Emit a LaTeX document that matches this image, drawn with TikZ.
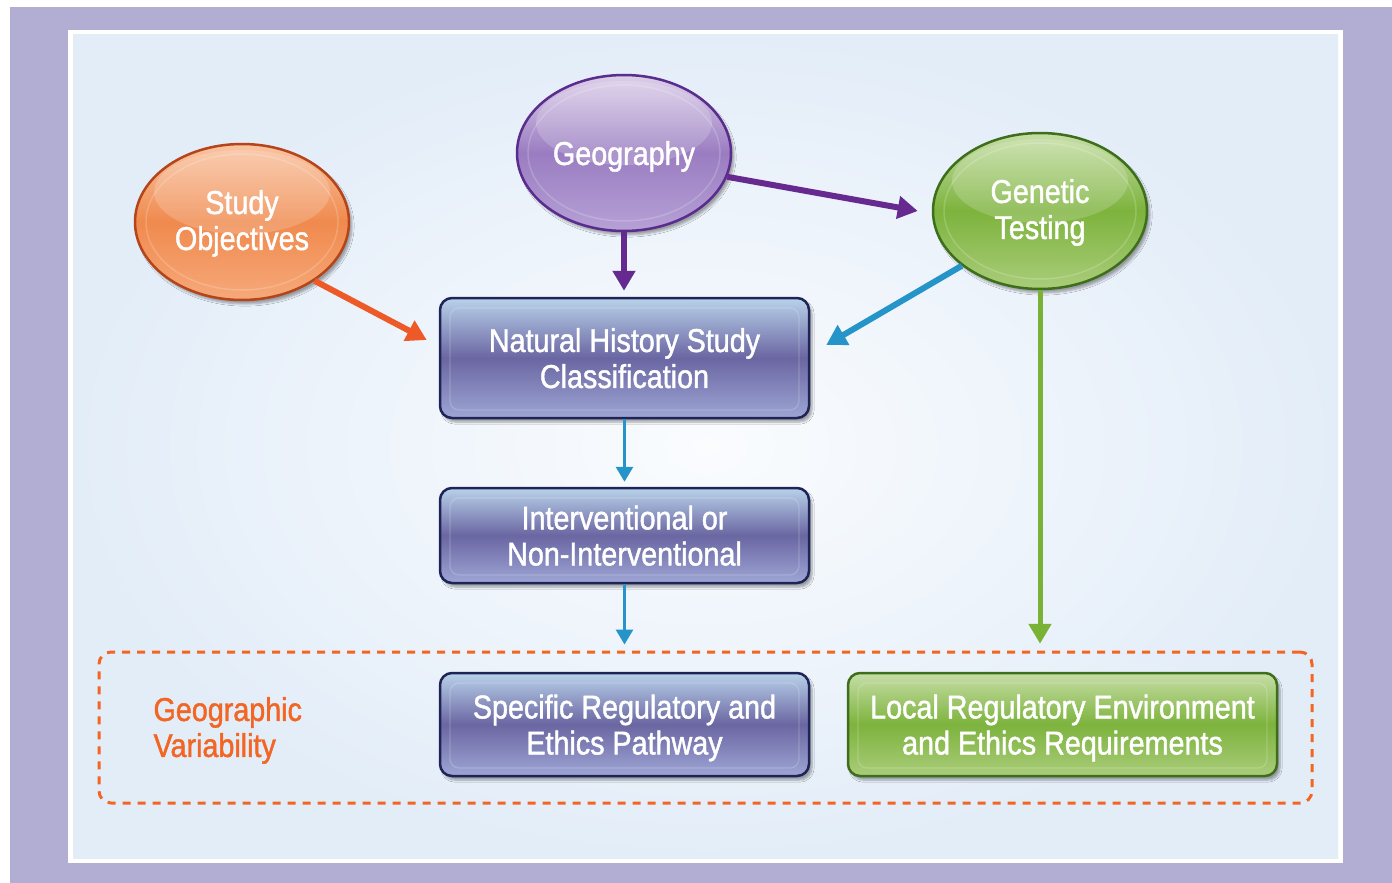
\documentclass[tikz,border=0pt]{standalone}
\usepackage{fontspec}
\setmainfont[FakeStretch=0.87,FakeBold=1.3]{Liberation Sans}
\usetikzlibrary{arrows.meta,shapes.geometric,calc,shadows.blur}
\definecolor{framepurple}{HTML}{B2AED3}
\definecolor{panelout}{HTML}{E3EDF8}
\definecolor{panelin}{HTML}{FAFCFE}
\definecolor{boxborder}{HTML}{1F2456}
\definecolor{boxtop}{HTML}{B9D2EA}
\definecolor{boxmid}{HTML}{6A66A2}
\definecolor{boxbot}{HTML}{9EA6D5}
\definecolor{gborder}{HTML}{3E6E1C}
\definecolor{gtop}{HTML}{C6DEA6}
\definecolor{gmid}{HTML}{7DB33D}
\definecolor{gbot}{HTML}{AACD7A}
\definecolor{oborder}{HTML}{B5441A}
\definecolor{otop}{HTML}{F9C4A2}
\definecolor{omid}{HTML}{F08A4E}
\definecolor{obot}{HTML}{F6A97A}
\definecolor{pborder}{HTML}{5A2C8E}
\definecolor{ptop}{HTML}{DCCFE9}
\definecolor{pmid}{HTML}{9A7DC1}
\definecolor{pbot}{HTML}{B6A1D6}
\definecolor{arrpurple}{HTML}{66298F}
\definecolor{arrorange}{HTML}{EE5A27}
\definecolor{arrblue}{HTML}{2594C8}
\definecolor{arrgreen}{HTML}{79B234}
\definecolor{dashorange}{HTML}{F26522}
\begin{document}
\begin{tikzpicture}[x=1pt,y=-1pt,
  txt/.style={text=white, font=\fontsize{33}{36}\selectfont, align=center, text depth=0pt},
  bub/.style={ellipse, minimum width=214pt, minimum height=156pt, line width=2.5pt,
    inner sep=0pt, txt,
    blur shadow={shadow xshift=3pt, shadow yshift=-4pt, shadow opacity=35, shadow blur steps=6},
    path picture={
      \draw[white, opacity=.18, line width=1.5pt] (path picture bounding box.center) ellipse [x radius=96, y radius=68];
      \fill[white, opacity=.18] ($(path picture bounding box.center)+(0,-30)$) ellipse [x radius=88, y radius=42];
    }},
  bx/.style={rectangle, rounded corners=12pt, line width=2.5pt, inner sep=0pt, txt,
    blur shadow={shadow xshift=3pt, shadow yshift=-4pt, shadow opacity=35, shadow blur steps=6},
    path picture={
      \draw[white, opacity=.18, line width=1.2pt, rounded corners=9pt]
        ($(path picture bounding box.north west)+(10,10)$) rectangle ($(path picture bounding box.south east)+(-10,-8)$);
    }},
  bluebox/.style={bx, draw=boxborder, top color=boxtop, bottom color=boxbot, middle color=boxmid},
  greenbox/.style={bx, draw=gborder, top color=gtop, bottom color=gbot, middle color=gmid},
  thick arrow/.style={line width=6pt, -{Triangle[length=20pt,width=22pt]}},
  thin arrow/.style={line width=3pt, draw=arrblue, -{Triangle[length=15pt,width=17pt]}}
]
\useasboundingbox (0,0) rectangle (1392,883);
% frame and panel
\fill[white] (0,0) rectangle (1392,883);
\fill[framepurple] (10,7) rectangle (1392,883);
\fill[white] (68,30) rectangle (1343,863);
\shade[inner color=panelin, outer color=panelout] (73,35) rectangle (1338,858);

% region
\node[draw=dashorange, line width=3pt, dash pattern=on 8pt off 7pt, rounded corners=12pt,
  minimum width=1213pt, minimum height=151pt, inner sep=0pt] (region) at (705.5,727.5) {};
\node[anchor=west, text=dashorange, font=\fontsize{33}{36}\selectfont, align=left, text depth=0pt] (gv) at (150,727) {Geographic\\Variability};

% ellipses
\node[bub, draw=oborder, top color=otop, bottom color=obot, middle color=omid] (study) at (242,222) {};
\node[txt] (studyt) at (242,220) {Study\\Objectives};
\node[bub, draw=pborder, top color=ptop, bottom color=pbot, middle color=pmid] (geo) at (624,153) {Geography};
\node[bub, draw=gborder, top color=gtop, bottom color=gbot, middle color=gmid] (gen) at (1040,211) {};
\node[txt] (gent) at (1040,209) {Genetic\\Testing};

% boxes
\node[bluebox, minimum width=369pt, minimum height=120pt] (nhs) at (624.5,358) {Natural History Study\\Classification};
\node[bluebox, minimum width=369pt, minimum height=95pt] (int) at (624.5,535.5) {Interventional or\\Non-Interventional};
\node[bluebox, minimum width=369pt, minimum height=103pt] (spec) at (624.5,724.5) {Specific Regulatory and\\Ethics Pathway};
\node[greenbox, minimum width=429pt, minimum height=103pt] (local) at (1062.5,724.5) {Local Regulatory Environment\\and Ethics Requirements};

% connectors
\draw[thick arrow, draw=arrpurple] (geo.south) -- ($(geo.south |- nhs.north)+(0,-6)$);
\draw[thick arrow, draw=arrpurple] (geo.-13) -- ($(gen.180)+(-14,0)$);
\draw[thick arrow, draw=arrorange] (study.-39) -- ($(nhs.west)+(-12,-18)$);
\draw[thick arrow, draw=arrblue] (gen.215) -- ($(nhs.east)+(16,-13)$);
\draw[thick arrow, draw=arrgreen, line width=5pt] (gen.south) -- ($(gen.south |- local.north)+(0,-28)$);
\draw[thin arrow] (nhs.south) -- ($(nhs.south |- int.north)+(0,-5)$);
\draw[thin arrow] (int.south) -- ($(int.south |- region.north)+(0,-6)$);
\end{tikzpicture}
\end{document}
